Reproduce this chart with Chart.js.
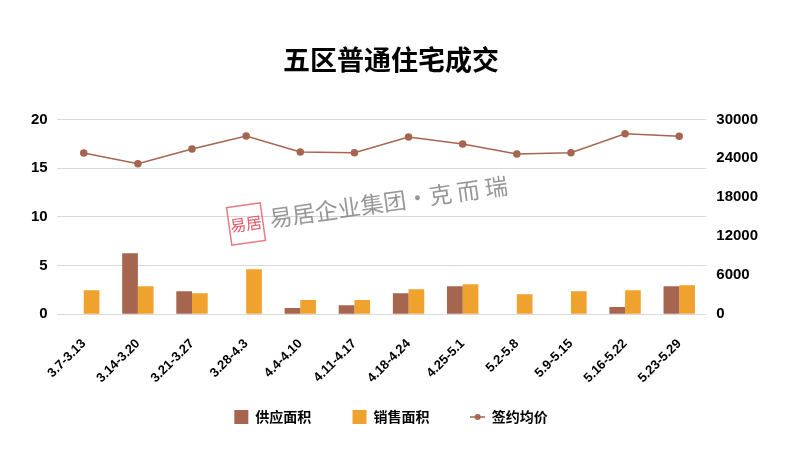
<!DOCTYPE html>
<html>
<head>
<meta charset="utf-8">
<script src="https://cdn.jsdelivr.net/npm/chart.js@4"></script>
<style>
    html, body { margin: 0; padding: 0; background: #fff; }
    #wrap { width: 786px; height: 449px; }
</style>
</head>
<body>
<div id="wrap"><canvas id="chart" width="786" height="449"></canvas></div>
<script>
// weekly periods
const weeks = ['3.7-3.13', '3.14-3.20', '3.21-3.27', '3.28-4.3', '4.4-4.10', '4.11-4.17',
    '4.18-4.24', '4.25-5.1', '5.2-5.8', '5.9-5.15', '5.16-5.22', '5.23-5.29'];
const supplyArea = [0, 6.26, 2.36, 0, 0.62, 0.92, 2.15, 2.87, 0, 0, 0.72, 2.87];
const salesArea = [2.46, 2.87, 2.15, 4.62, 1.44, 1.44, 2.56, 3.08, 2.05, 2.36, 2.46, 2.97];
const avgPrice = [24820, 23180, 25430, 27430, 24970, 24870, 27280, 26200, 24660, 24870, 27800, 27390];

const leftTicks = [0, 5, 10, 15, 20];
const rightTicks = [0, 6000, 12000, 18000, 24000, 30000];

const BROWN = '#A6654F';
const ORANGE = '#F0A22E';
const FONT = '"Liberation Sans", "Noto Sans CJK SC", sans-serif';

// small icon for the line series in the legend
function lineIcon() {
    const c = document.createElement('canvas');
    c.width = 15;
    c.height = 10;
    const g = c.getContext('2d');
    g.strokeStyle = BROWN;
    g.lineWidth = 1.5;
    g.beginPath();
    g.moveTo(0, 5);
    g.lineTo(15, 5);
    g.stroke();
    g.fillStyle = BROWN;
    g.beginPath();
    g.arc(7.5, 5, 3, 0, Math.PI * 2);
    g.fill();
    return c;
}

// faint company watermark behind the marks
const watermark = {
    id: 'watermark',
    beforeDatasetsDraw(chart) {
        const ctx = chart.ctx;
        ctx.save();
        ctx.translate(246, 224);
        ctx.rotate(-0.14);
        ctx.strokeStyle = 'rgba(225,90,100,0.8)';
        ctx.lineWidth = 1.5;
        ctx.strokeRect(-17, -19, 34, 38);
        ctx.fillStyle = 'rgba(220,60,75,0.85)';
        ctx.font = '16px "Noto Sans CJK SC"';
        ctx.textAlign = 'center';
        ctx.textBaseline = 'middle';
        ctx.fillText('易居', 0, 0);
        ctx.fillStyle = 'rgba(125,125,125,0.8)';
        ctx.font = '23px "Noto Sans CJK SC"';
        ctx.textAlign = 'left';
        ctx.fillText('易居企业集团·克 而 瑞', 24, -2);
        ctx.restore();
    }
};

const ctx = document.getElementById('chart').getContext('2d');
new Chart(ctx, {
    type: 'bar',
    data: {
        labels: weeks,
        datasets: [
            {
                label: '供应面积',
                data: supplyArea,
                backgroundColor: BROWN,
                yAxisID: 'y',
                categoryPercentage: 0.58,
                barPercentage: 1.0
            },
            {
                label: '销售面积',
                data: salesArea,
                backgroundColor: ORANGE,
                yAxisID: 'y',
                categoryPercentage: 0.58,
                barPercentage: 1.0
            },
            {
                type: 'line',
                label: '签约均价',
                data: avgPrice,
                borderColor: BROWN,
                backgroundColor: BROWN,
                borderWidth: 1.5,
                pointRadius: 3,
                pointHoverRadius: 3,
                tension: 0,
                yAxisID: 'y1'
            }
        ]
    },
    options: {
        responsive: false,
        animation: false,
        devicePixelRatio: 1,
        layout: {
            padding: { left: 22, right: 26, top: 44, bottom: 15 }
        },
        plugins: {
            title: {
                display: true,
                text: '五区普通住宅成交',
                color: '#000',
                font: { family: '"Noto Sans CJK SC"', size: 27, weight: 'bold' },
                padding: { top: 0, bottom: 43 }
            },
            legend: {
                position: 'bottom',
                labels: {
                    color: '#000',
                    font: { family: '"Noto Sans CJK SC"', size: 14, weight: 'bold' },
                    boxWidth: 14,
                    boxHeight: 14,
                    padding: 10,
                    usePointStyle: true,
                    generateLabels(chart) {
                        const last = chart.data.datasets.length - 1;
                        return chart.data.datasets.map((ds, i) => ({
                            // spaces widen the gap between items
                            text: i < last ? ds.label + '\u3000\u3000 ' : ds.label,
                            fillStyle: ds.backgroundColor,
                            strokeStyle: ds.backgroundColor,
                            lineWidth: 0,
                            pointStyle: ds.type === 'line' ? lineIcon() : 'rect',
                            datasetIndex: i,
                            hidden: false
                        }));
                    }
                }
            },
            tooltip: { enabled: false }
        },
        scales: {
            x: {
                grid: { display: false },
                border: { display: false },
                ticks: {
                    color: '#000',
                    font: { family: FONT, size: 13, weight: 'bold' },
                    minRotation: 45,
                    maxRotation: 45,
                    padding: 14
                }
            },
            y: {
                position: 'left',
                min: 0,
                max: 20,
                afterBuildTicks(axis) { axis.ticks = leftTicks.map(v => ({ value: v })); },
                grid: { color: '#d9d9d9', lineWidth: 1, drawTicks: false },
                border: { display: false },
                ticks: {
                    color: '#000',
                    font: { family: FONT, size: 15, weight: 'bold' },
                    padding: 9
                }
            },
            y1: {
                position: 'right',
                min: 0,
                max: 30000,
                afterBuildTicks(axis) { axis.ticks = rightTicks.map(v => ({ value: v })); },
                grid: { display: false },
                border: { display: false },
                ticks: {
                    color: '#000',
                    font: { family: FONT, size: 15, weight: 'bold' },
                    padding: 2,
                    callback: v => String(v)
                }
            }
        }
    },
    plugins: [watermark]
});
</script>
</body>
</html>
